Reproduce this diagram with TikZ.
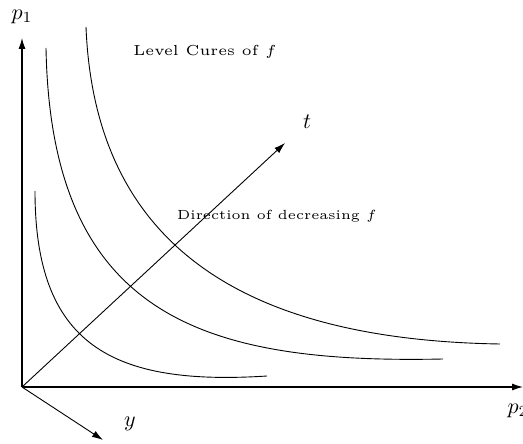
\documentclass[tikz,border=0pt]{standalone}
\usetikzlibrary{arrows.meta}
\begin{document}
\begin{tikzpicture}[x=1pt,y=-1pt,
  axis/.style={line width=1.1pt,-{Latex[length=11pt,width=7pt]}},
  curve/.style={line width=0.9pt},
  lbl/.style={inner sep=0pt},
  txt/.style={inner sep=0pt}]
\useasboundingbox (0,0) rectangle (523,444);
\coordinate (O) at (22,387);
\coordinate (P1) at (22,38);
\coordinate (P2) at (523,387);
\coordinate (Y) at (103,440);
\coordinate (T) at (285,143);
\draw[axis] (O) -- (P1);
\draw[axis] (O) -- (P2);
\draw[axis,line width=0.9pt] (O) -- (Y);
\draw[axis,line width=0.9pt] (O) -- (T);
\coordinate (a0) at (35,191);  \coordinate (a1) at (267,376);
\coordinate (b0) at (46,48);   \coordinate (b1) at (443,359);
\coordinate (c0) at (86,27);   \coordinate (c1) at (500,344);
\draw[curve] (a0) .. controls (35,345) and (112,386) .. (a1);
\draw[curve] (b0) .. controls (51,318) and (205,364) .. (b1);
\draw[curve] (c0) .. controls (95,250) and (250,340) .. (c1);
\node[lbl] (lp1) at (22,17) {\scalebox{2.2}{$p_1$}};
\node[lbl] (lp2) at (518,411) {\scalebox{2.2}{$p_2$}};
\node[lbl] (lt) at (307,122) {\scalebox{2.2}{$t$}};
\node[lbl] (ly) at (130,424) {\scalebox{2.2}{$y$}};
\node[txt] (lc) at (205,52) {\scalebox{2.9}{\tiny Level Cures of $f$}};
\node[txt] (dd) at (277,216) {\scalebox{2.65}{\tiny Direction of decreasing $f$}};
\end{tikzpicture}
\end{document}
